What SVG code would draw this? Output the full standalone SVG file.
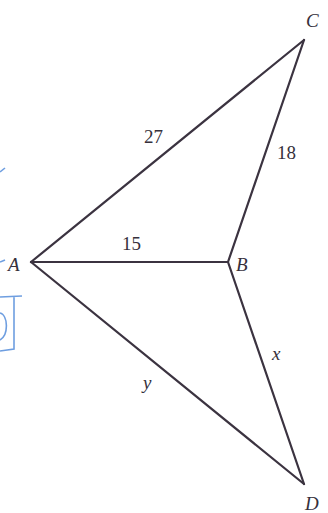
<svg xmlns="http://www.w3.org/2000/svg" width="328" height="513" viewBox="0 0 328 513">
<style>
.edge{stroke:#3b3340;stroke-width:2.2;fill:none;stroke-linecap:round;stroke-linejoin:round}
.lbl{font-family:"Liberation Serif","Times New Roman",serif;font-size:19px;fill:#36303c}
.it{font-style:italic}
.blue{stroke:#4a86d8;stroke-width:1.6;fill:none;opacity:0.8}
</style>
<rect width="328" height="513" fill="#ffffff"/>
<g id="scan-marks">
<path class="blue" d="M0,172 L5,168"/>
<path class="blue" d="M0,262 L5,260"/>
<path class="blue" d="M0,297 L22,296 M14,297 L14,349 L0,351"/>
<path class="blue" d="M0,313 C8,315 9,335 0,340"/>
</g>
<g id="connectors">
<line class="edge" x1="31" y1="262" x2="304" y2="40"/>
<line class="edge" x1="31" y1="262" x2="228" y2="262"/>
<line class="edge" x1="228" y1="262" x2="304" y2="40"/>
<line class="edge" x1="31" y1="262" x2="304" y2="484"/>
<line class="edge" x1="228" y1="262" x2="304" y2="484"/>
</g>
<g id="node-A"><text class="lbl it" x="8" y="271">A</text></g>
<g id="node-B"><text class="lbl it" x="236" y="271">B</text></g>
<g id="node-C"><text class="lbl it" x="306" y="27">C</text></g>
<g id="node-D"><text class="lbl it" x="305" y="510">D</text></g>
<g id="labels">
<text class="lbl" x="144" y="143">27</text>
<text class="lbl" x="277" y="159">18</text>
<text class="lbl" x="122" y="250">15</text>
<text class="lbl it" x="272" y="360">x</text>
<text class="lbl it" x="143" y="389">y</text>
</g>
</svg>
